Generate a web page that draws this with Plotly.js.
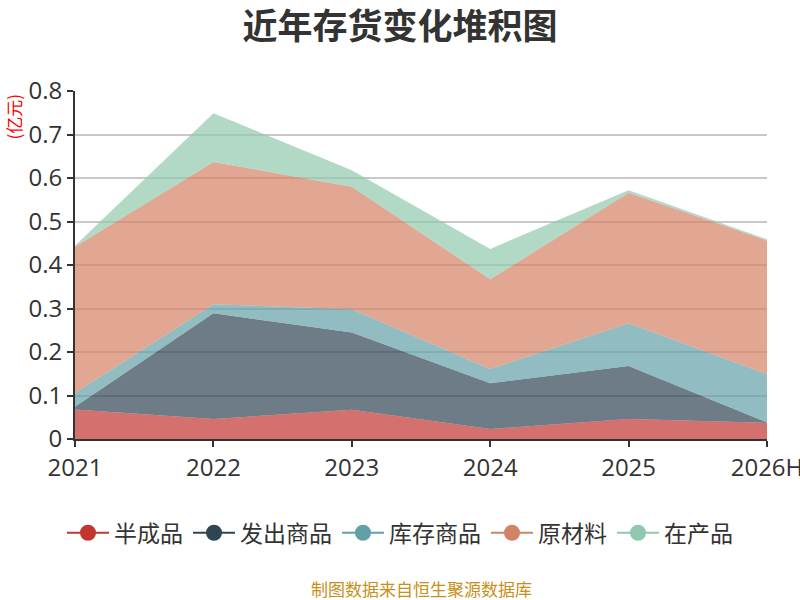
<!DOCTYPE html>
<html>
<head>
<meta charset="utf-8">
<script src="https://cdn.plot.ly/plotly-3.0.1.min.js"></script>
<style>
  html, body { margin: 0; padding: 0; background: #fff; }
  #chart { width: 800px; height: 600px; }
</style>
</head>
<body>
<div id="chart"></div>
<script>
// years on the x axis
const years = ['2021', '2022', '2023', '2024', '2025', '2026H'];

// inventory parts, 亿元 (stacked)
const banChengPin = [0.068, 0.046, 0.067, 0.023, 0.046, 0.037];   // 半成品
const faChuShangPin = [0.006, 0.243, 0.178, 0.105, 0.122, 0.001]; // 发出商品
const kuCunShangPin = [0.032, 0.021, 0.053, 0.033, 0.098, 0.111]; // 库存商品
const yuanCaiLiao = [0.336, 0.327, 0.282, 0.206, 0.300, 0.307];   // 原材料
const zaiChanPin = [0.002, 0.112, 0.038, 0.070, 0.006, 0.003];    // 在产品

const seriesNames = ['半成品', '发出商品', '库存商品', '原材料', '在产品'];
const seriesValues = [banChengPin, faChuShangPin, kuCunShangPin, yuanCaiLiao, zaiChanPin];
const colors = ['#c23531', '#2f4554', '#61a0a8', '#d48265', '#91c7ae'];

const FONT = '"Noto Sans CJK SC", "Open Sans", sans-serif';
const NUM_FONT = '"Open Sans", "Noto Sans CJK SC", sans-serif';

function rgba(hex, a) {
    const n = parseInt(hex.slice(1), 16);
    return `rgba(${(n >> 16) & 255},${(n >> 8) & 255},${n & 255},${a})`;
}

const traces = [];

// stacked areas
seriesNames.forEach((name, i) => {
    traces.push({
        x: years,
        y: seriesValues[i],
        name: name,
        type: 'scatter',
        mode: 'lines',
        stackgroup: 'inv',
        line: { width: 0, color: colors[i] },
        fillcolor: rgba(colors[i], 0.7),
        showlegend: false,
        hoverinfo: 'x+y+name'
    });
});

// legend entries (line + dot, like the original)
seriesNames.forEach((name, i) => {
    traces.push({
        x: [null],
        y: [null],
        name: name,
        type: 'scatter',
        mode: 'lines+markers',
        line: { width: 2, color: colors[i] },
        marker: { size: 16, color: colors[i] },
        showlegend: true,
        hoverinfo: 'skip'
    });
});

const layout = {
    width: 800,
    height: 600,
    margin: { l: 75, r: 33, t: 91, b: 161 },
    paper_bgcolor: '#fff',
    plot_bgcolor: '#fff',
    font: { family: FONT, color: '#333', size: 20 },
    title: {
        text: '<b>近年存货变化堆积图</b>',
        font: { family: FONT, size: 35, color: '#333' },
        x: 0.5,
        xanchor: 'center',
        y: 0.955,
        yanchor: 'middle'
    },
    xaxis: {
        type: 'category',
        range: [0, 5],
        showgrid: false,
        showline: true,
        linecolor: '#333',
        linewidth: 2,
        ticks: 'outside',
        ticklen: 6,
        tickwidth: 2,
        tickcolor: '#333',
        tickfont: { family: NUM_FONT, size: 24, color: '#333' },
        zeroline: false,
        fixedrange: true
    },
    yaxis: {
        range: [0, 0.8],
        dtick: 0.1,
        showgrid: true,
        gridcolor: '#c8c8c8',
        gridwidth: 2,
        showline: true,
        linecolor: '#333',
        linewidth: 2,
        ticks: 'outside',
        ticklen: 6,
        tickwidth: 2,
        tickcolor: '#333',
        tickfont: { family: NUM_FONT, size: 24, color: '#333' },
        zeroline: false,
        fixedrange: true
    },
    showlegend: true,
    legend: {
        orientation: 'h',
        traceorder: 'normal',
        xref: 'container',
        x: 0.5,
        xanchor: 'center',
        yref: 'container',
        y: 0.112,
        yanchor: 'middle',
        font: { family: FONT, size: 23, color: '#333' },
        itemwidth: 42,
        tracegroupgap: 0
    },
    annotations: [
        {
            text: '(亿元)',
            xref: 'paper', yref: 'paper',
            x: -0.089, y: 1.0,
            xanchor: 'center', yanchor: 'top',
            textangle: -90,
            showarrow: false,
            font: { family: FONT, size: 17, color: '#ff0000' }
        },
        {
            text: '制图数据来自恒生聚源数据库',
            xref: 'paper', yref: 'paper',
            x: 0.5, y: -0.43,
            xanchor: 'center', yanchor: 'middle',
            showarrow: false,
            font: { family: FONT, size: 17, color: '#c8901a' }
        }
    ]
};

Plotly.newPlot('chart', traces, layout, { displayModeBar: false, staticPlot: true });
</script>
</body>
</html>
